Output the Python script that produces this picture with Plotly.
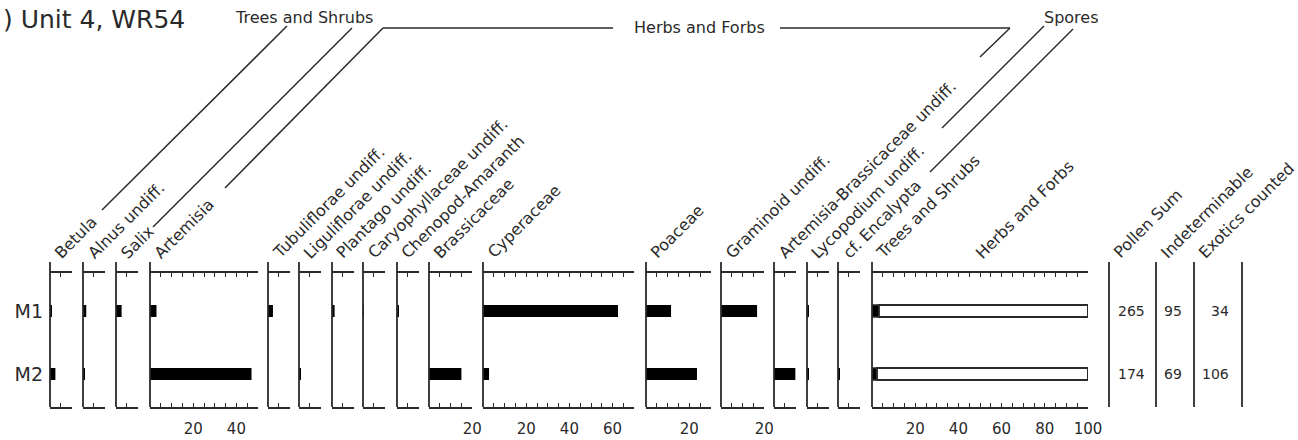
import plotly.graph_objects as go

# ---- data ---------------------------------------------------------------
samples = ["M1", "M2"]
sample_pos = [1, 2]

taxa = [
    "Betula", "Alnus undiff.", "Salix", "Artemisia",
    "Tubuliflorae undiff.", "Liguliflorae undiff.", "Plantago undiff.",
    "Caryophyllaceae undiff.", "Chenopod-Amaranth", "Brassicaceae",
    "Cyperaceae", "Poaceae", "Graminoid undiff.",
    "Artemisia-Brassicaceae undiff.", "Lycopodium undiff.", "cf. Encalypta",
]
pct_m1 = [0.8, 1.5, 2.6, 3.0, 2.3, 0.0, 1.2, 0.4, 0.6, 0.0, 62.5, 11.6, 16.7, 0.0, 0.6, 0.0]
pct_m2 = [2.5, 0.6, 0.0, 47.0, 0.0, 0.6, 0.0, 0.0, 0.0, 15.0, 2.8, 23.6, 0.0, 10.0, 0.6, 0.6]

sum_labels = ["Trees and Shrubs", "Herbs and Forbs"]
trees_shrubs = [3.2, 2.3]
herbs_forbs = [96.8, 97.7]

count_labels = ["Pollen Sum", "Indeterminable", "Exotics counted"]
pollen_sum = [265, 174]
indeterminable = [95, 69]
exotics_counted = [34, 106]

# ---- page geometry (pixels) ---------------------------------------------
W, H = 1298, 440
PX_PER_PCT = 2.16
Y_TOP, Y_BOT = 273, 407          # top / bottom horizontal axes
Y_STEM = 262                     # top of the vertical stems
panel_left = [50, 83, 116, 150, 268, 299, 332, 363, 397, 429, 483, 646, 721,
              774, 807, 838, 872]
panel_max = [10, 10, 10, 50, 10, 10, 10, 10, 10, 20, 70, 30, 20, 10, 10, 10, 100]
count_lines = [1109, 1156, 1194, 1242]
count_text_x = [1131, 1173, 1231]
count_anchor = ["center", "center", "right"]

INK = "#2a2a2a"
FONT = "DejaVu Sans"


def px(x):
    return x / W


def py(y):
    return 1 - y / H


fig = go.Figure()
layout_axes = {}
shapes = []
annotations = []


def axis_name(i):
    return ("xaxis" if i == 0 else f"xaxis{i + 1}"), ("x" if i == 0 else f"x{i + 1}")


def add_axis(i, rng):
    lname, tname = axis_name(i)
    left = panel_left[i]
    right = left + rng * PX_PER_PCT
    vals = list(range(0, rng + 1, 5))
    txt = [str(v) if (v % 20 == 0 and v > 0) else "" for v in vals]
    layout_axes[lname] = dict(
        domain=[px(left), px(right)], range=[0, rng], anchor="y",
        automargin=False,
        showline=True, linecolor=INK, linewidth=1.6, mirror="ticks",
        ticks="inside", ticklen=4, tickwidth=1.2, tickcolor=INK,
        tickvals=vals, ticktext=txt, showgrid=False, zeroline=False,
        tickfont=dict(size=15, color=INK, family=FONT), ticklabelstandoff=7,
        fixedrange=True,
    )
    # vertical stem of the panel
    shapes.append(dict(type="line", xref="paper", yref="paper",
                       x0=px(left), x1=px(left), y0=py(Y_STEM), y1=py(Y_BOT),
                       line=dict(color=INK, width=1.8)))
    return tname


def add_label(text, x_start):
    annotations.append(dict(
        text=text, xref="paper", yref="paper", x=px(x_start - 5), y=py(265),
        xanchor="left", yanchor="bottom", textangle=-45, showarrow=False,
        font=dict(size=16, color=INK, family=FONT),
    ))


# taxon panels
for i, name in enumerate(taxa):
    tname = add_axis(i, panel_max[i])
    fig.add_trace(go.Bar(
        orientation="h", y=sample_pos, x=[pct_m1[i], pct_m2[i]], width=0.19,
        marker=dict(color="black", line=dict(width=0)),
        xaxis=tname, yaxis="y", showlegend=False, hoverinfo="skip",
    ))
    add_label(name, panel_left[i] + 3)

# summary panel: trees & shrubs vs herbs & forbs
k = len(taxa)
tname = add_axis(k, panel_max[k])
fig.add_trace(go.Bar(
    orientation="h", y=sample_pos, x=trees_shrubs, width=0.19,
    marker=dict(color="black", line=dict(color=INK, width=1.5)),
    xaxis=tname, yaxis="y", showlegend=False, hoverinfo="skip",
))
fig.add_trace(go.Bar(
    orientation="h", y=sample_pos, x=herbs_forbs, base=trees_shrubs, width=0.19,
    marker=dict(color="white", line=dict(color=INK, width=2)),
    xaxis=tname, yaxis="y", showlegend=False, hoverinfo="skip",
))
add_label(sum_labels[0], panel_left[k] + 3)
add_label(sum_labels[1], 974)

# count columns
for x in count_lines:
    shapes.append(dict(type="line", xref="paper", yref="paper",
                       x0=px(x), x1=px(x), y0=py(Y_STEM), y1=py(Y_BOT),
                       line=dict(color=INK, width=1.8)))
for j, (lab, vals) in enumerate(zip(count_labels, [pollen_sum, indeterminable, exotics_counted])):
    add_label(lab, count_lines[j] + 3)
    for yv, v in zip(sample_pos, vals):
        annotations.append(dict(
            text=str(v), xref="paper", yref="y", x=px(count_text_x[j]), y=yv,
            xanchor=count_anchor[j], yanchor="middle", showarrow=False,
            font=dict(size=14, color=INK, family=FONT),
        ))

# group brackets
def seg(x0, y0, x1, y1):
    shapes.append(dict(type="line", xref="paper", yref="paper",
                       x0=px(x0), y0=py(y0), x1=px(x1), y1=py(y1),
                       line=dict(color=INK, width=1.5)))

seg(102, 210, 287, 26)
seg(153, 227, 352, 28)
seg(225, 188, 383, 28)
seg(383, 28, 613, 28)
seg(780, 28, 1010, 28)
seg(1010, 28, 980, 57)
seg(942, 128, 1044, 26)
seg(930, 172, 1073, 29)

for text, x, y in [("Trees and Shrubs", 304, 18), ("Herbs and Forbs", 699, 28),
                   ("Spores", 1071, 18)]:
    annotations.append(dict(text=text, xref="paper", yref="paper", x=px(x), y=py(y),
                            xanchor="center", yanchor="middle", showarrow=False,
                            font=dict(size=16, color=INK, family=FONT)))

annotations.append(dict(text=") Unit 4, WR54", xref="paper", yref="paper",
                        x=px(1), y=py(19), xanchor="left", yanchor="middle",
                        showarrow=False, font=dict(size=25, color=INK, family=FONT)))

fig.update_layout(
    width=W, height=H, margin=dict(l=0, r=0, t=0, b=0, pad=0),
    paper_bgcolor="white", plot_bgcolor="rgba(0,0,0,0)",
    barmode="overlay", showlegend=False,
    yaxis=dict(domain=[py(Y_BOT), py(Y_TOP)], range=[2.524, 0.397], anchor="x",
               automargin=False,
               tickvals=sample_pos, ticktext=samples, showline=False,
               showgrid=False, zeroline=False, ticks="", ticklabelstandoff=6,
               tickfont=dict(size=19, color=INK, family=FONT), fixedrange=True),
    shapes=shapes, annotations=annotations,
    font=dict(family=FONT, color=INK),
    **layout_axes,
)

fig.write_html("out.html", config={"displayModeBar": False})
